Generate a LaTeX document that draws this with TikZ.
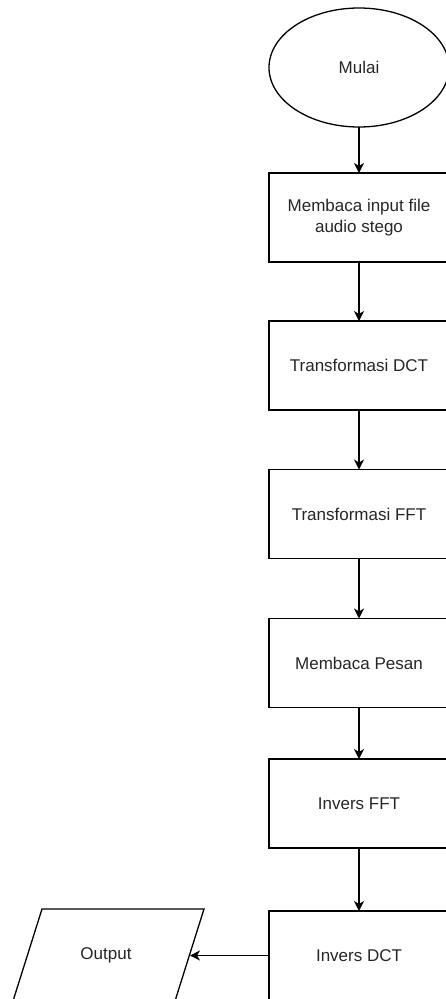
\documentclass[tikz,border=0pt]{standalone}
\usepackage{fontspec}
\setmainfont{Liberation Sans}
\usetikzlibrary{shapes.geometric,arrows.meta}
\begin{document}
\begin{tikzpicture}[x=1pt,y=-1pt,
  every node/.style={font=\fontsize{17}{21}\selectfont, text=black!85},
  proc/.style={draw, line width=1.3pt, minimum width=180pt, minimum height=89pt,
    align=center, inner sep=0pt, outer sep=0pt},
  term/.style={draw, ellipse, line width=1.3pt, minimum width=180pt,
    minimum height=119pt, inner sep=0pt, outer sep=0pt},
  ioshape/.style={draw, line width=1.3pt, line join=miter},
  flow/.style={line width=1.3pt, -{Stealth[length=10pt,width=10pt,inset=3pt]}}]
\useasboundingbox (0,0) rectangle (446,999);

% start terminal
\node[term] (start) at (359,67.5) {Mulai};

% processing steps
\node[proc] (s1) at (359,217.5) {Membaca input file\\audio stego};
\node[proc] (s2) at (359,365.5) {Transformasi DCT};
\node[proc] (s3) at (359,514) {Transformasi FFT};
\node[proc] (s4) at (359,663) {Membaca Pesan};
\node[proc] (s5) at (359,803.5) {Invers FFT};
\node[proc] (s6) at (359,955.5) {Invers DCT};

% output parallelogram
\draw[ioshape] (42,909) -- (204,909) -- (175,1001) -- (13,1001) -- cycle;
\node (out) at (106,955) {Output};
\coordinate (outR) at (190,955.5);

% connectors
\draw[flow] (start) -- (s1);
\draw[flow] (s1) -- (s2);
\draw[flow] (s2) -- (s3);
\draw[flow] (s3) -- (s4);
\draw[flow] (s4) -- (s5);
\draw[flow] (s5) -- (s6);
\draw[flow] (s6.west) -- (outR);
\end{tikzpicture}
\end{document}
